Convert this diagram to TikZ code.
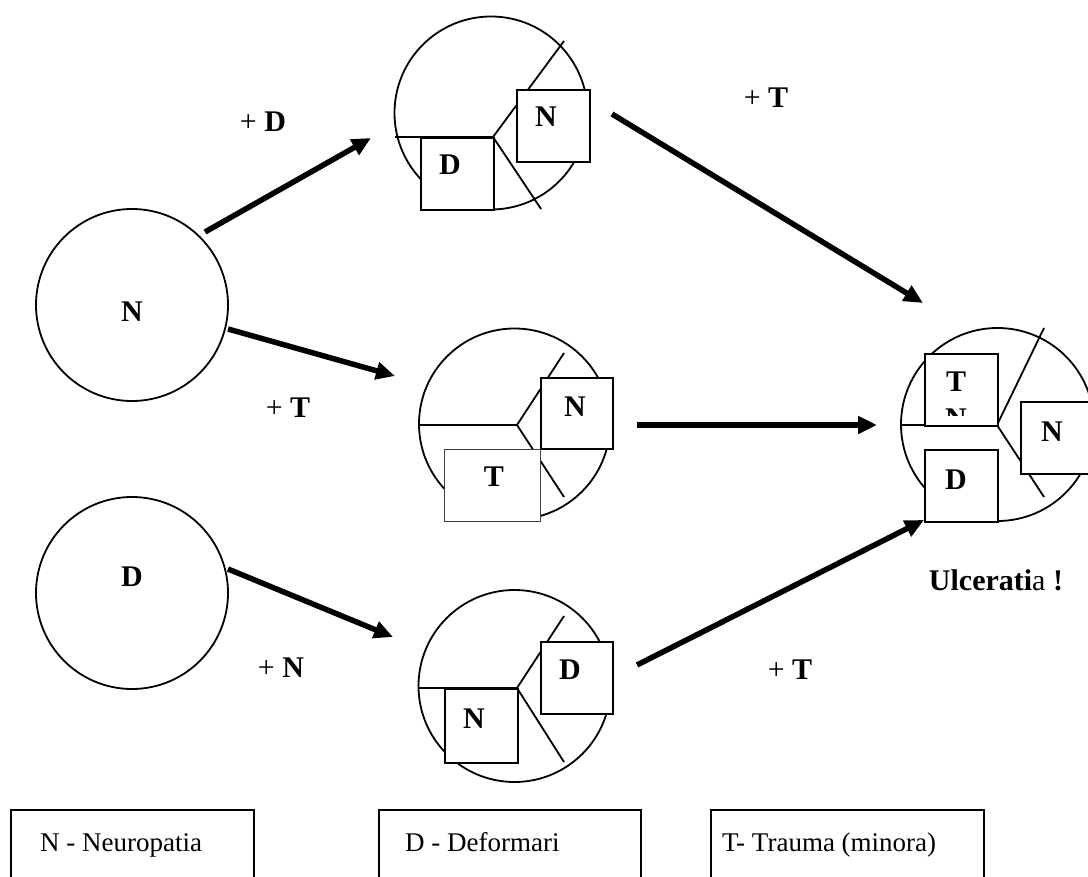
\documentclass[tikz,border=0pt]{standalone}
\usepackage{fontspec}
\setmainfont{Liberation Serif}
\usetikzlibrary{arrows.meta}
\begin{document}
\begin{tikzpicture}[x=1pt,y=-1pt,
  ring/.style={circle,draw,line width=1.8pt,inner sep=0pt,minimum size=#1},
  sqbox/.style={draw,fill=white,line width=1.8pt,inner sep=0pt,anchor=north west},
  thinbox/.style={draw=black!75,fill=white,line width=1.1pt,inner sep=0pt,anchor=north west},
  spoke/.style={line width=1.8pt},
  lbl/.style={font=\fontsize{30}{34}\selectfont\bfseries,inner sep=0pt},
  plus/.style={font=\fontsize{30}{34}\selectfont,inner sep=0pt},
  legtxt/.style={font=\fontsize{27}{30}\selectfont,inner sep=0pt,anchor=base west},
  legbox/.style={draw,line width=1.6pt,inner sep=0pt,anchor=north west,minimum height=130pt},
  arr/.style={line width=5.5pt,-{Triangle[length=19pt,width=17pt]}}]
\useasboundingbox (0,0) rectangle (1088,877);
\clip (0,0) rectangle (1088,877);

% starting states
\node[ring=192pt] (CN) at (132,305) {};
\node[lbl] at (132,312) {N};
\node[ring=192pt] (CD) at (132,593) {};
\node[lbl] at (132,577) {D};

% arrow end points
\coordinate (a1s) at (205,232);  \coordinate (a1e) at (371,138);
\coordinate (a2s) at (228,329);  \coordinate (a2e) at (395,376);
\coordinate (a3s) at (228,569);  \coordinate (a3e) at (393,637);
\coordinate (a4s) at (612,114);  \coordinate (a4e) at (923,303);
\coordinate (a5s) at (637,425);  \coordinate (a5e) at (877,425);
\coordinate (a6s) at (637,665);  \coordinate (a6e) at (924,520);
\draw[arr] (a1s) -- (a1e);
\draw[arr] (a2s) -- (a2e);
\draw[arr] (a3s) -- (a3e);
\draw[arr] (a4s) -- (a4e);
\draw[arr] (a5s) -- (a5e);
\draw[arr] (a6s) -- (a6e);

% transition labels
\node[plus] at (263,122) {+ \textbf{D}};
\node[plus] at (766,98) {+ \textbf{T}};
\node[plus] at (288,408) {+ \textbf{T}};
\node[plus] at (281,668) {+ \textbf{N}};
\node[plus] at (790,670) {+ \textbf{T}};

% N + D
\node[ring=193pt] (Ctop) at (491,113) {};
\coordinate (Jtop) at (493,137);
\draw[spoke] (Jtop) -- (395,137);
\draw[spoke] (Jtop) -- (564,41);
\draw[spoke] (Jtop) -- (541,209);
\node[sqbox,minimum width=73pt,minimum height=72pt] (topD) at (420,137) {};
\node[sqbox,minimum width=73pt,minimum height=72pt] (topN) at (516,89) {};
\node[lbl] at (450,165) {D};
\node[lbl] at (546,117) {N};

% N + T
\node[ring=191pt] (Cmid) at (514.5,424) {};
\coordinate (Jmid) at (517,425);
\draw[spoke] (Jmid) -- (419,425);
\draw[spoke] (Jmid) -- (564,353);
\draw[spoke] (Jmid) -- (564,497);
\node[sqbox,minimum width=72pt,minimum height=71pt] (midN) at (540,377) {};
\node[thinbox,minimum width=96pt,minimum height=72pt] (midT) at (444,449) {};
\node[lbl] at (575,407) {N};
\node[lbl] at (494,477) {T};

% D + N
\node[ring=192pt] (Cbot) at (514.5,686) {};
\coordinate (Jbot) at (517,688);
\draw[spoke] (Jbot) -- (419,688);
\draw[spoke] (Jbot) -- (564,616);
\draw[spoke] (Jbot) -- (564,762);
\node[sqbox,minimum width=72pt,minimum height=72pt] (botD) at (540,641) {};
\node[sqbox,minimum width=73pt,minimum height=74pt] (botN) at (444,688) {};
\node[lbl] at (570,670) {D};
\node[lbl] at (474,719) {N};

% N + D + T
\node[ring=193pt] (Cright) at (997.5,424.5) {};
\coordinate (Jright) at (997,425);
\draw[spoke] (Jright) -- (901,425);
\draw[spoke] (Jright) -- (1044,328);
\draw[spoke] (Jright) -- (1044,497);
\node[sqbox,minimum width=73pt,minimum height=72pt] (rT) at (924,353) {};
\node[sqbox,minimum width=73pt,minimum height=72pt] (rN) at (1020,401) {};
\node[sqbox,minimum width=73pt,minimum height=72pt] (rD) at (924,449) {};
\node[lbl] at (956,382) {T};
\begin{scope}
  \clip (924,353) rectangle (997,416);
  \node[lbl] at (956,419) {N};
\end{scope}
\node[lbl] at (1052,432) {N};
\node[lbl] at (956,480) {D};

\node[lbl,anchor=center] at (996,580) {Ulcerati\textmd{a} !};

% legend
\node[legbox,minimum width=243pt] (legN) at (10,809) {};
\node[legbox,minimum width=262pt] (legD) at (378,809) {};
\node[legbox,minimum width=273pt] (legT) at (710,809) {};
\node[legtxt] at (40,851) {N - Neuropatia};
\node[legtxt] at (405,851) {D - Deformari};
\node[legtxt] at (722,851) {T- Trauma (minora)};
\end{tikzpicture}
\end{document}
